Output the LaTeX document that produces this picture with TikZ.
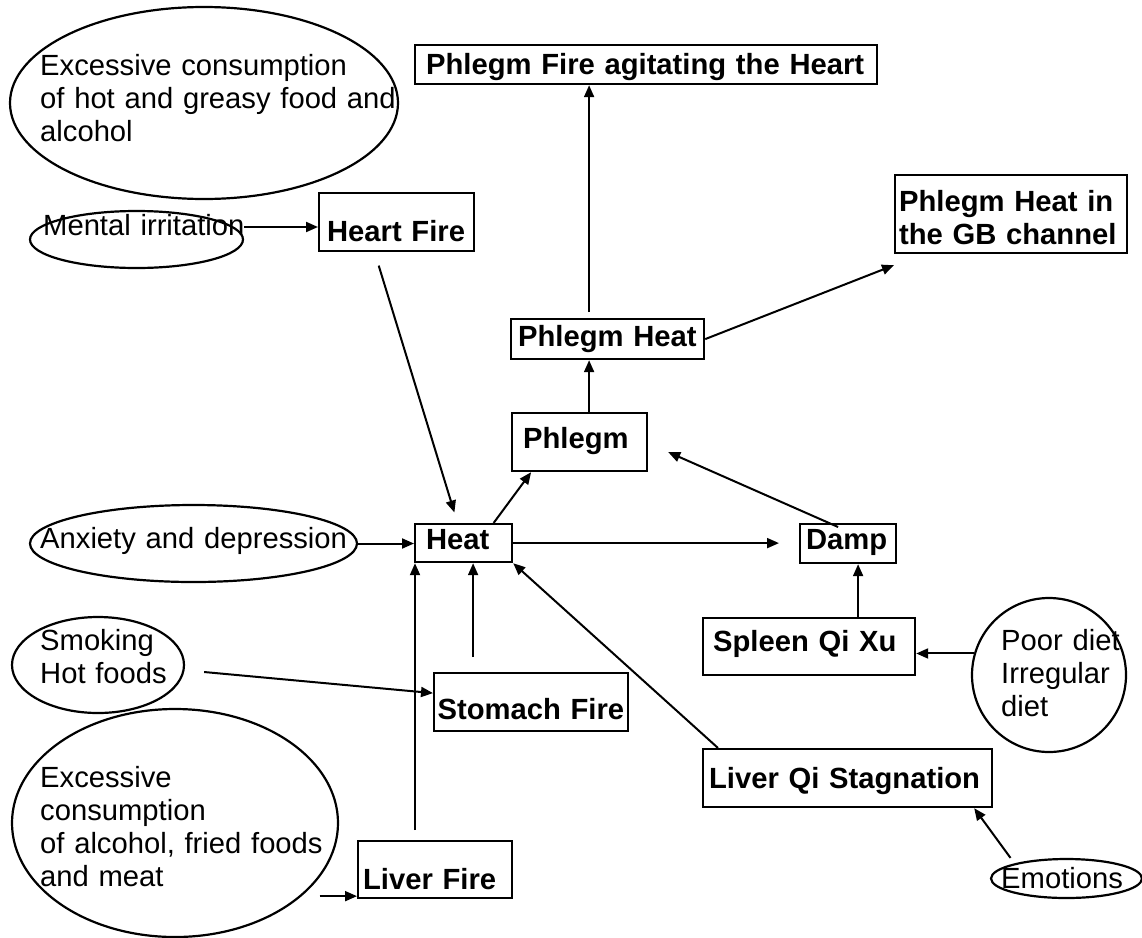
\documentclass[tikz,border=0pt]{standalone}
\usepackage{fontspec}
\setmainfont{Liberation Sans}
\usepackage{tikz}
\usetikzlibrary{calc}
\usetikzlibrary{arrows.meta}
\usetikzlibrary{shapes.geometric}
\newcommand{\chartfont}{\fontsize{29.2pt}{33pt}\selectfont}
\newcommand{\chartwd}{1142}
\newcommand{\chartht}{937}
\newcommand{\boxline}{2.2pt}
\newcommand{\arrline}{2pt}

\begin{document}
\begin{tikzpicture}[x=1pt,y=-1pt,
    cause/.style={draw,ellipse,line width=\boxline,inner sep=0pt},
    causetext/.style={anchor=base west,inner sep=0pt,text width=400pt,
      align=left,font=\chartfont},
    state/.style={draw,rectangle,line width=\boxline,anchor=north west,
      inner ysep=0pt,align=left,font=\chartfont\bfseries},
    arr/.style={line width=\arrline,-{Triangle[length=12pt,width=10pt]}}]
    \fill[white] (0,0) rectangle (\chartwd,\chartht);
    \useasboundingbox (0,0) rectangle (\chartwd,\chartht);
    % causes
    \node[cause,minimum width=388pt,minimum height=192pt] (hotgreasy) at (204,103) {};
    \node[causetext] (hotgreasytext) at (40,75)
      {Excessive consumption\\of hot and greasy food and\\alcohol};
    \node[cause,minimum width=213pt,minimum height=57pt] (mental) at (136.5,239.5) {};
    \node[causetext] (mentaltext) at (43,235) {Mental irritation};
    \node[cause,minimum width=327pt,minimum height=77pt] (anxiety) at (193.5,543.5) {};
    \node[causetext] (anxietytext) at (40,548) {Anxiety and depression};
    \node[cause,minimum width=172pt,minimum height=96pt] (smoking) at (98,665) {};
    \node[causetext] (smokingtext) at (40,650) {Smoking\\Hot foods};
    \node[cause,minimum width=326pt,minimum height=228pt] (alcoholfried) at (175,823) {};
    \node[causetext] (alcoholtext) at (40,787)
      {Excessive\\consumption\\of alcohol, fried foods\\and meat};
    \node[cause,circle,minimum size=154pt] (poordiet) at (1049,675) {};
    \node[causetext] (poordiettext) at (1001,650) {Poor diet\\Irregular\\diet};
    \node[cause,minimum width=151pt,minimum height=39pt] (emotions) at (1066.5,878.5) {};
    \node[causetext] (emotionstext) at (1001,888) {Emotions};
    % patterns
    \node[state,inner xsep=11pt,text width=440pt,text height=29pt,text depth=10pt]
      (phlegmfire) at (414,44) {Phlegm Fire agitating the Heart};
    \node[state,inner xsep=4pt,text width=224pt,text height=36pt,text depth=42pt]
      (gbchannel) at (894,174) {Phlegm Heat in\\the GB channel};
    \node[state,inner xsep=8pt,text width=139pt,text height=48pt,text depth=10pt]
      (heartfire) at (318,192) {Heart Fire};
    \node[state,inner xsep=7pt,text width=179pt,text height=27pt,text depth=13pt]
      (phlegmheat) at (510,318) {Phlegm Heat};
    \node[state,inner xsep=11pt,text width=113pt,text height=35pt,text depth=23pt]
      (phlegm) at (511,412) {Phlegm};
    \node[state,inner xsep=11pt,text width=75pt,text height=25pt,text depth=13pt]
      (heat) at (414,523) {Heat};
    \node[state,inner xsep=6pt,text width=84pt,text height=25pt,text depth=14pt]
      (damp) at (799,523) {Damp};
    \node[state,inner xsep=10pt,text width=192pt,text height=33pt,text depth=24pt]
      (spleen) at (702,617) {Spleen Qi Xu};
    \node[state,inner xsep=3.5pt,text width=187pt,text height=46pt,text depth=12pt]
      (stomach) at (433,672) {Stomach Fire};
    \node[state,inner xsep=6pt,text width=277pt,text height=39pt,text depth=19pt]
      (liverqi) at (702,748) {Liver Qi Stagnation};
    \node[state,inner xsep=5pt,text width=144pt,text height=48pt,text depth=9pt]
      (liverfire) at (357,840) {Liver Fire};
    % connectors
    \coordinate (mentalout) at ([yshift=12.5pt]mental.east);
    \coordinate (phlegmup) at ([xshift=9.5pt]phlegm.north);
    \coordinate (dampin) at ([xshift=10pt]damp.south);
    \coordinate (heatin) at ([xshift=9.5pt]heat.south);
    \coordinate (heatleft) at ([xshift=1pt]heat.south west);
    \draw[arr] (mentalout) -- (mentalout -| heartfire.west);
    \draw[arr,shorten <=14pt,shorten >=11pt] ([xshift=-22pt]heartfire.south)
      -- ([xshift=-6pt]heat.north);
    \draw[arr] (anxiety.east) -- (anxiety.east -| heat.west);
    \draw[arr] ([xshift=30pt]heat.north) -- ([xshift=-48.5pt]phlegm.south);
    \draw[arr,shorten >=20pt] (heat.east) -- (heat.east -| damp.west);
    \draw[arr] (phlegmup) -- (phlegmup |- phlegmheat.south);
    \draw[arr,shorten <=6pt] (phlegmup |- phlegmheat.north) -- (phlegmup |- phlegmfire.south);
    \draw[arr] (phlegmheat.east) -- ([yshift=-11pt]gbchannel.south west);
    \draw[arr] ([xshift=-10pt,yshift=-4pt]damp.north) -- ([xshift=20pt,yshift=-10pt]phlegm.east);
    \draw[arr] (dampin |- spleen.north) -- (dampin);
    \draw[arr] (poordiet.164) -- (poordiet.164 -| spleen.east);
    \draw[arr] ([xshift=19pt,yshift=-7pt]smoking.east) -- ([yshift=9pt]stomach.west);
    \draw[arr,shorten <=15pt] (heatin |- stomach.north) -- (heatin);
    \draw[arr,shorten <=10pt] (heatleft |- liverfire.north) -- (heatleft);
    \draw[arr,shorten <=18pt] (alcoholfried.-30) -- (alcoholfried.-30 -| liverfire.west);
    \draw[arr] ([xshift=16pt]liverqi.north west) -- (heat.south east);
    \draw[arr] ([xshift=-56pt]emotions.north) -- ([xshift=-19pt]liverqi.south east);
\end{tikzpicture}
\end{document}
